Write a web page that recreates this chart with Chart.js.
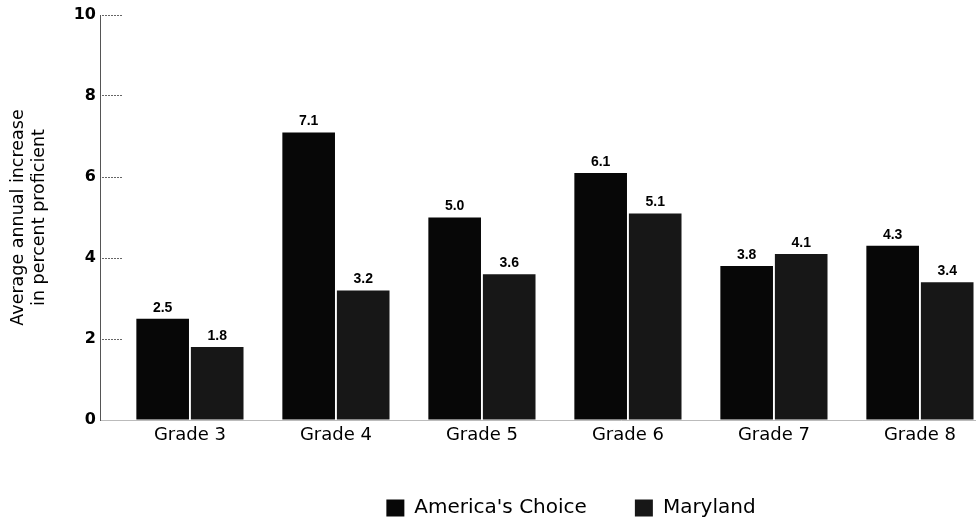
<!DOCTYPE html>
<html>
<head>
<meta charset="utf-8">
<script src="https://cdn.jsdelivr.net/npm/chart.js@4.4.1/dist/chart.umd.min.js"></script>
<style>
html,body{margin:0;padding:0;background:#fff;overflow:hidden}
#wrap{width:1142px;height:521px}
</style>
</head>
<body>
<div id="wrap"><canvas id="c" width="1142" height="521"></canvas></div>
<script>
// datos
const GRADES=['Grade 3','Grade 4','Grade 5','Grade 6','Grade 7','Grade 8'];
const AMERICAS_CHOICE=[2.5,7.1,5.0,6.1,3.8,4.3];
const MARYLAND=[1.8,3.2,3.6,5.1,4.1,3.4];
const Y_TICKS=[0,2,4,6,8,10];
const Y_TITLE=['Average annual increase','in percent proficient'];

const FONT="'DejaVu Sans', sans-serif";
const COL_AC='#070707', COL_MD='#171717';

function pts(arr){return arr.map((v,i)=>({x:i+1,y:v}))}

// etiquetas de valor arriba de cada barra
const valueLabels={
  id:'valueLabels',
  afterDatasetsDraw(chart){
    const ctx=chart.ctx;
    ctx.save();
    ctx.font="bold 14px 'Liberation Sans Narrow','Liberation Sans',sans-serif";
    ctx.fillStyle='#000';
    ctx.textAlign='center';
    ctx.textBaseline='bottom';
    chart.data.datasets.forEach((ds,di)=>{
      chart.getDatasetMeta(di).data.forEach((bar,i)=>{
        ctx.fillText(ds.data[i].y.toFixed(1),bar.x,bar.y-4);
      });
    });
    ctx.restore();
  }
};

new Chart(document.getElementById('c'),{
  type:'bar',
  data:{datasets:[
    {label:"America's Choice",data:pts(AMERICAS_CHOICE),backgroundColor:COL_AC,categoryPercentage:0.747,barPercentage:0.965},
    {label:'Maryland',data:pts(MARYLAND),backgroundColor:COL_MD,categoryPercentage:0.747,barPercentage:0.965}
  ]},
  options:{
    responsive:false,animation:false,
    layout:{padding:{top:15,left:0,right:0,bottom:-7}},
    plugins:{
      tooltip:{enabled:false},
      legend:{position:'bottom',
        labels:{color:'#000',font:{family:FONT,size:20},boxWidth:18,boxHeight:17,padding:48}}
    },
    scales:{
      x:{type:'linear',min:0.384,max:7.521,offset:false,
        afterBuildTicks:s=>{s.ticks=GRADES.map((g,i)=>({value:i+1}))},
        ticks:{color:'#000',font:{family:FONT,size:18,lineHeight:1},padding:6,autoSkip:false,maxRotation:0,
          callback:v=>GRADES[v-1]},
        grid:{display:false,drawTicks:false},
        border:{display:true,color:'#bbb',width:1,dash:[2,2]}
      },
      y:{min:0,max:10,
        afterBuildTicks:s=>{s.ticks=Y_TICKS.map(v=>({value:v}))},
        afterFit:s=>{s.width=100;s.paddingTop=0;s.paddingBottom=0},
        ticks:{color:'#000',font:{family:FONT,size:16,weight:'bold'},padding:26},
        grid:{drawOnChartArea:false,drawTicks:true,tickLength:-22,tickColor:'#666',tickWidth:1,tickBorderDash:[2,1]},
        border:{display:true,color:'#555',width:1,dash:[2,1]},
        title:{display:true,text:Y_TITLE,color:'#000',font:{family:FONT,size:17.5},padding:{top:8,bottom:0}}
      }
    }
  },
  plugins:[valueLabels]
});
</script>
</body>
</html>
